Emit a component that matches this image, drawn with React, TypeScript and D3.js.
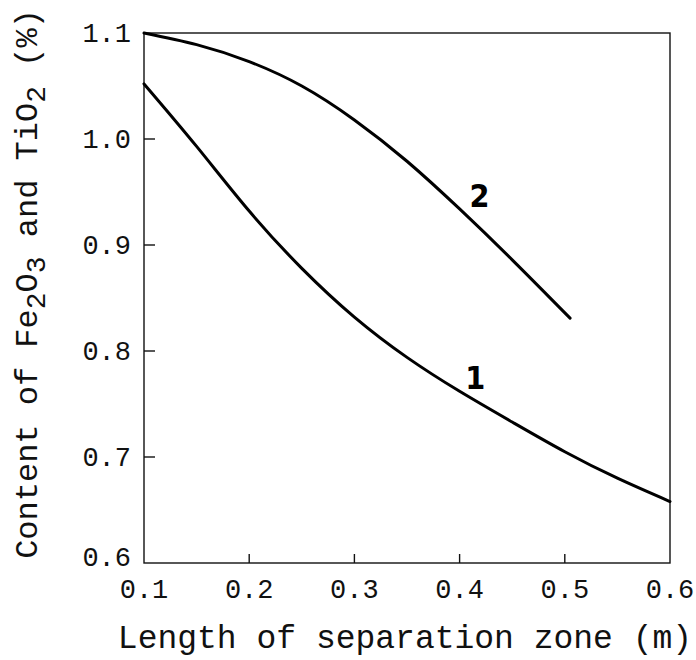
import { useEffect, useRef } from 'react'
import * as d3 from 'd3'

// Length of separation zone (m)
const xCurve1 = [0.1, 0.15, 0.2, 0.25, 0.3, 0.35, 0.4, 0.45, 0.5, 0.55, 0.6]
const yCurve1 = [1.052, 0.993, 0.932, 0.878, 0.832, 0.794, 0.762, 0.733, 0.705, 0.68, 0.658]

const xCurve2 = [0.1, 0.15, 0.2, 0.25, 0.3, 0.35, 0.4, 0.45, 0.505]
const yCurve2 = [1.1, 1.089, 1.073, 1.05, 1.018, 0.979, 0.934, 0.886, 0.831]

const xTicks = [0.1, 0.2, 0.3, 0.4, 0.5, 0.6]
const yTicks = [0.6, 0.7, 0.8, 0.9, 1.0, 1.1]

const curveLabels = [
  { text: '1', x: 0.415, y: 0.775 },
  { text: '2', x: 0.419, y: 0.947 },
]

const MONO = "'Courier New', 'Liberation Mono', monospace"

export default function App() {
  const svgRef = useRef<SVGSVGElement | null>(null)

  useEffect(() => {
    if (!svgRef.current) return
    const svg = d3.select(svgRef.current)
    svg.selectAll('*').remove()

    const left = 144, right = 670, top = 33, bottom = 563

    const x = d3.scaleLinear().domain([0.1, 0.6]).range([left, right])
    const y = d3.scaleLinear().domain([0.6, 1.1]).range([bottom, top])

    // frame
    svg.append('rect')
      .attr('x', left).attr('y', top)
      .attr('width', right - left).attr('height', bottom - top)
      .attr('fill', 'none')
      .attr('stroke', '#111')
      .attr('stroke-width', 1.4)

    // inward ticks
    svg.selectAll('.xtick')
      .data(xTicks.slice(1, -1))
      .join('line')
      .attr('x1', d => x(d)).attr('x2', d => x(d))
      .attr('y1', bottom).attr('y2', bottom - 9)
      .attr('stroke', '#111').attr('stroke-width', 1.4)

    svg.selectAll('.ytick')
      .data(yTicks.slice(1, -1))
      .join('line')
      .attr('x1', left).attr('x2', left + 11)
      .attr('y1', d => y(d)).attr('y2', d => y(d))
      .attr('stroke', '#111').attr('stroke-width', 1.4)

    // tick labels
    svg.selectAll('.xlabel')
      .data(xTicks)
      .join('text')
      .attr('x', d => x(d))
      .attr('y', bottom + 35)
      .attr('text-anchor', 'middle')
      .attr('font-family', MONO)
      .attr('font-size', 27)
      .attr('fill', '#111')
      .text(d => d.toFixed(1))

    svg.selectAll('.ylabel')
      .data(yTicks)
      .join('text')
      .attr('x', left - 13)
      .attr('y', d => y(d) + (d === 0.6 ? -6 : 0))
      .attr('dy', '0.35em')
      .attr('text-anchor', 'end')
      .attr('font-family', MONO)
      .attr('font-size', 27)
      .attr('fill', '#111')
      .text(d => d.toFixed(1))

    // curves
    const line = d3.line<[number, number]>()
      .x(d => x(d[0]))
      .y(d => y(d[1]))
      .curve(d3.curveNatural)

    const series = [
      xCurve1.map((v, i) => [v, yCurve1[i]] as [number, number]),
      xCurve2.map((v, i) => [v, yCurve2[i]] as [number, number]),
    ]
    svg.selectAll('.curve')
      .data(series)
      .join('path')
      .attr('d', d => line(d))
      .attr('fill', 'none')
      .attr('stroke', '#000')
      .attr('stroke-width', 3)
      .attr('stroke-linecap', 'round')

    svg.selectAll('.clabel')
      .data(curveLabels)
      .join('text')
      .attr('x', d => x(d.x))
      .attr('y', d => y(d.y))
      .attr('dy', '0.36em')
      .attr('text-anchor', 'middle')
      .attr('font-family', "'DejaVu Sans Condensed', 'DejaVu Sans', sans-serif")
      .attr('font-weight', 'bold')
      .attr('font-size', 32)
      .attr('fill', '#000')
      .text(d => d.text)

    // x title
    svg.append('text')
      .attr('x', 405).attr('y', 648)
      .attr('text-anchor', 'middle')
      .attr('font-family', MONO)
      .attr('font-size', 33)
      .attr('fill', '#111')
      .text('Length of separation zone (m)')

    // y title with subscripts
    const yt = svg.append('text')
      .attr('transform', 'translate(37,284) rotate(-90)')
      .attr('text-anchor', 'middle')
      .attr('font-family', MONO)
      .attr('font-size', 32)
      .attr('fill', '#111')
    yt.append('tspan').text('Content of Fe')
    yt.append('tspan').attr('dy', 8).attr('font-size', 28).text('2')
    yt.append('tspan').attr('dy', -8).text('O')
    yt.append('tspan').attr('dy', 8).attr('font-size', 28).text('3')
    yt.append('tspan').attr('dy', -8).text(' and TiO')
    yt.append('tspan').attr('dy', 8).attr('font-size', 28).text('2')
    yt.append('tspan').attr('dy', -8).text(' (%)')
  }, [])

  return (
    <svg
      ref={svgRef}
      width={696}
      height={660}
      style={{ position: 'absolute', left: 0, top: 0, background: '#fff' }}
    />
  )
}
